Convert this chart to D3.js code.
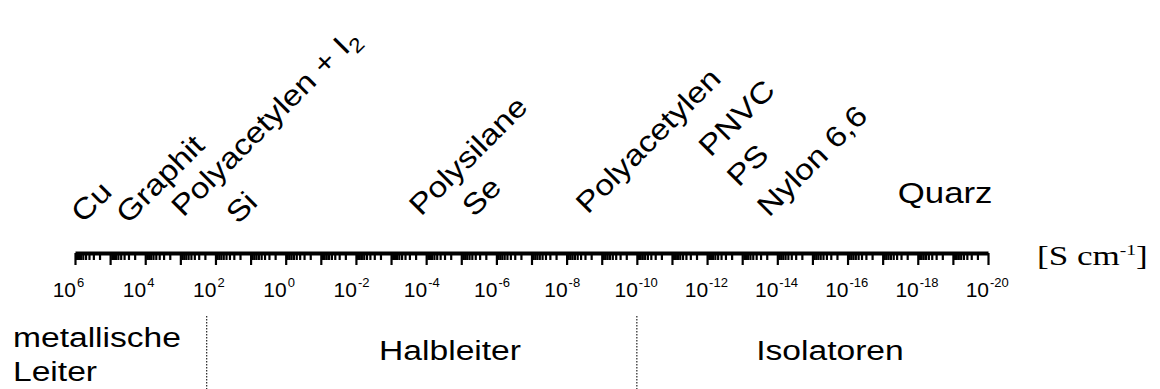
<!DOCTYPE html>
<meta charset="utf-8">
<style>
body { margin: 0; background: #fff; }
svg { display: block; }
text { font-family: "Liberation Sans", Arial, Helvetica, sans-serif; fill: #000; }
.axis .domain { stroke: #000; stroke-width: 4; }
.axis .tick line { stroke: #000; stroke-width: 2.2; }
text.unit { font-family: "Liberation Serif", "Times New Roman", serif; }
.divider { stroke: #222; stroke-width: 1.2; stroke-dasharray: 1.5,1.5; }
</style>
<svg width="1160" height="389"></svg>
<script src="https://d3js.org/d3.v7.min.js"></script>
<script>

// materials and their conductivity, as log10 of S/cm
var materials = ["Cu", "Graphit", "Polyacetylen + I2", "Si", "Polysilane", "Se",
                 "Polyacetylen", "PNVC", "PS", "Nylon 6,6", "Quarz"];
var logSigma = [5.77, 4.49, 2.92, 1.36, -3.85, -5.36, -8.6, -12.1, -12.9, -13.76, -17.43];

// axis: 10^6 down to 10^-20, labelled every second decade
var decades = [6, -20];
var labelExponents = [6, 4, 2, 0, -2, -4, -6, -8, -10, -12, -14, -16, -18, -20];

// regions and the log10 conductivities where they meet
var regions = ["metallische Leiter", "Halbleiter", "Isolatoren"];
var regionBounds = [2.25, -10];

// layout only: how far each label's start sits above the axis, where the region names sit
var lift = {"Cu": 29, "Graphit": 28, "Polyacetylen + I2": 35, "Si": 28, "Polysilane": 36,
            "Se": 35, "Polyacetylen": 38, "PNVC": 95, "PS": 65, "Nylon 6,6": 35, "Quarz": 50};
var flat = {"Quarz": true};
var regionAt = [null, -4.68, -15.5];

var svg = d3.select("svg"),
    width = +svg.attr("width"),
    height = +svg.attr("height");

var axisY = 253;
var stretch = 1.2;

var x = d3.scaleLog()
    .domain([Math.pow(10, decades[0]), Math.pow(10, decades[1])])
    .range([75, 988]);

// tick values
var major = d3.range(decades[0], decades[1] - 1, -1).map(function(k){ return Math.pow(10, k); });
var minor = [];
for (var k = decades[0]; k > decades[1]; k--) {
  for (var m = 2; m <= 9; m++) minor.push(m * Math.pow(10, k - 1));
}

svg.append("g")
    .attr("class", "axis")
    .attr("transform", "translate(0," + axisY + ")")
    .call(d3.axisBottom(x).tickValues(minor).tickSize(7).tickSizeOuter(0).tickFormat(""));

svg.append("g")
    .attr("class", "axis")
    .attr("transform", "translate(0," + axisY + ")")
    .call(d3.axisBottom(x).tickValues(major).tickSize(12).tickSizeOuter(0).tickFormat(""))
    .select(".domain").remove();

// tick labels 10^n
var tl = svg.append("g").selectAll("g")
  .data(labelExponents).enter().append("g")
    .attr("transform", function(e){ return "translate(" + x(Math.pow(10, e)) + ",297)"; });
tl.append("text")
    .attr("x", 1)
    .attr("text-anchor", "end")
    .style("font-size", "21px")
    .text("10");
tl.append("text")
    .attr("x", 2)
    .attr("y", -10)
    .style("font-size", "13px")
    .text(function(e){ return String(e); });

// unit
var unit = svg.append("text")
    .attr("class", "unit")
    .attr("transform", "translate(1037,265) scale(1.3,1)")
    .style("font-size", "27px");
unit.append("tspan").text("[S cm");
unit.append("tspan").attr("dy", -10).style("font-size", "15px").text("-1");
unit.append("tspan").attr("dy", 10).text("]");

// material labels
var labels = svg.append("g").selectAll("text")
  .data(materials).enter().append("text")
    .style("font-size", "29px")
    .attr("transform", function(d, i){
      var px = x(Math.pow(10, logSigma[i])), py = axisY - lift[d];
      var s = flat[d] ? stretch : 1.16;
      return "translate(" + px + "," + py + ")" + (flat[d] ? "" : " rotate(-45)") + " scale(" + s + ",1)";
    });

labels.each(function(d){
  var t = d3.select(this);
  var sub = d.match(/^(.*[A-Za-z])(\d)$/);
  if (sub) {
    t.append("tspan").text(sub[1]);
    t.append("tspan").attr("dy", 7).style("font-size", "20px").text(sub[2]);
  } else {
    t.text(d);
  }
});

// region dividers
svg.append("g").selectAll("line")
  .data(regionBounds).enter().append("line")
    .attr("class", "divider")
    .attr("x1", function(b){ return x(Math.pow(10, b)); })
    .attr("x2", function(b){ return x(Math.pow(10, b)); })
    .attr("y1", 316)
    .attr("y2", height);

// region names
var first = regions[0].split(" ");
var lead = svg.append("text")
    .attr("transform", "translate(13,347) scale(" + stretch + ",1)")
    .style("font-size", "28px");
lead.selectAll("tspan").data(first).enter().append("tspan")
    .attr("x", 0)
    .attr("dy", function(d, i){ return i ? 34 : 0; })
    .text(function(d){ return d; });

regions.slice(1).forEach(function(r, i){
  svg.append("text")
      .attr("text-anchor", "middle")
      .attr("transform", "translate(" + x(Math.pow(10, regionAt[i + 1])) + ",360) scale(" + stretch + ",1)")
      .style("font-size", "28px")
      .text(r);
});

</script>
